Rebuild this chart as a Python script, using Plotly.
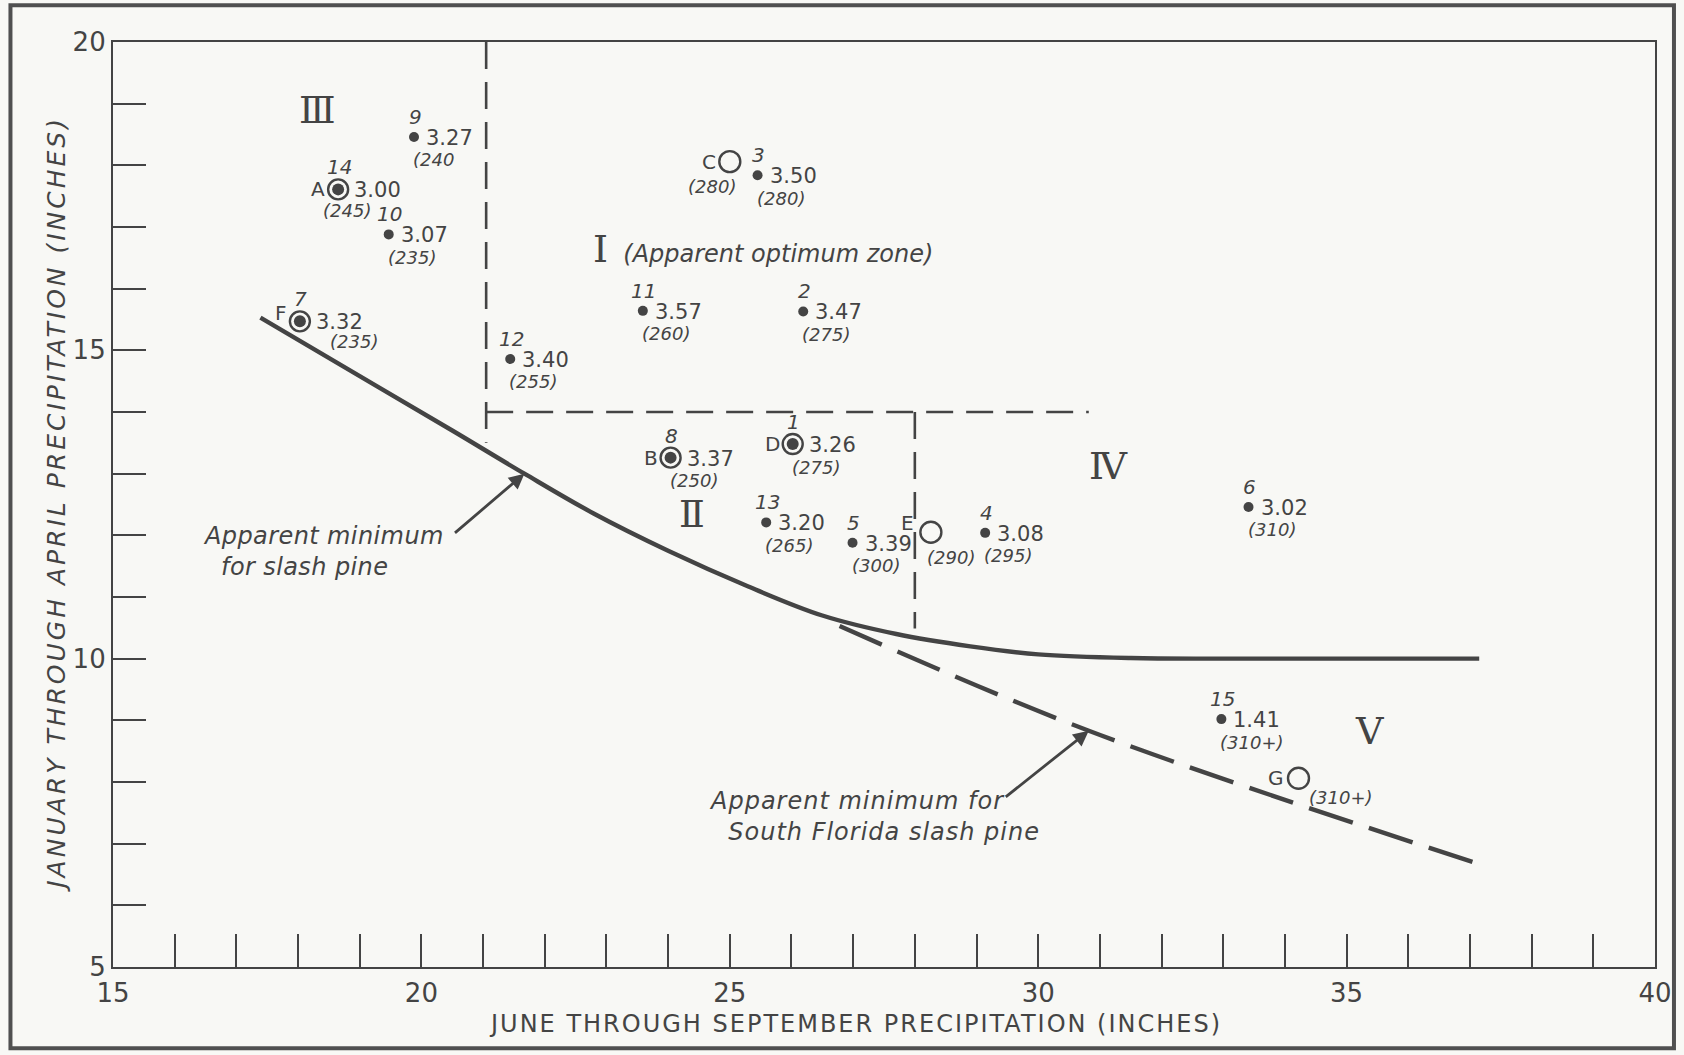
import plotly.graph_objects as go

INK = "#444444"
BG = "#f8f8f5"
SANS = "DejaVu Sans"
SERIF = "DejaVu Serif"

# Stations: June-September rain (x), January-April rain (y), growth value, days
station_no = ["1", "2", "3", "4", "5", "6", "7", "8", "9", "10", "11", "12", "13", "14", "15"]
station_x = [26.02, 26.19, 25.45, 29.14, 26.99, 33.41, 18.03, 24.04, 19.88, 19.47, 23.59, 21.44, 25.59, 18.65, 32.97]
station_y = [13.48, 15.63, 17.84, 12.04, 11.88, 12.46, 15.47, 13.26, 18.46, 16.88, 15.64, 14.86, 12.21, 17.61, 9.02]
station_value = ["3.26", "3.47", "3.50", "3.08", "3.39", "3.02", "3.32", "3.37", "3.27", "3.07", "3.57", "3.40", "3.20", "3.00", "1.41"]
station_days = ["(275)", "(275)", "(280)", "(295)", "(300)", "(310)", "(235)", "(250)", "(240", "(235)", "(260)", "(255)", "(265)", "(245)", "(310+)"]
station_letter = {"1": "D", "7": "F", "8": "B", "14": "A"}

# Lettered sites without station data (open circles)
site_letter = ["C", "E", "G"]
site_x = [25.00, 28.26, 34.22]
site_y = [18.06, 12.05, 8.06]
site_days = ["(280)", "(290)", "(310+)"]

# Apparent minimum for slash pine (solid) and for South Florida slash pine (dashed)
slash_min_x = [17.39, 19.00, 20.50, 21.67, 22.80, 24.00, 25.30, 26.50, 27.70, 28.90, 30.00, 31.50, 33.00, 37.15]
slash_min_y = [15.53, 14.58, 13.70, 13.00, 12.35, 11.75, 11.17, 10.70, 10.40, 10.20, 10.07, 10.01, 10.00, 10.00]
sfl_min_x = [26.78, 30.82, 37.30]
sfl_min_y = [10.53, 8.83, 6.62]

# Zone boundaries
zone_v1_x, zone_v1_y = [21.05, 21.05], [20.0, 13.5]
zone_h_x, zone_h_y = [21.05, 30.82], [14.0, 14.0]
zone_v2_x, zone_v2_y = [28.0, 28.0], [14.0, 10.49]

# Zone numerals
zone_name = ["Ⅲ", "Ⅱ", "Ⅳ", "Ⅴ"]
zone_x = [18.32, 24.39, 31.14, 35.37]
zone_y = [18.90, 12.34, 13.13, 8.83]

fig = go.Figure()

# boundaries
for xs, ys in [(zone_v1_x, zone_v1_y), (zone_h_x, zone_h_y), (zone_v2_x, zone_v2_y)]:
    fig.add_trace(go.Scatter(x=xs, y=ys, mode="lines",
                             line=dict(color=INK, width=2.6, dash="27px,13px"),
                             hoverinfo="skip"))

fig.add_trace(go.Scatter(x=slash_min_x, y=slash_min_y, mode="lines",
                         line=dict(color=INK, width=4.4, shape="spline", smoothing=1.0),
                         hoverinfo="skip"))
fig.add_trace(go.Scatter(x=sfl_min_x, y=sfl_min_y, mode="lines",
                         line=dict(color=INK, width=4.4, dash="46px,17px", shape="spline"),
                         hoverinfo="skip"))

# station markers
ring_idx = [i for i, s in enumerate(station_no) if s in station_letter]
fig.add_trace(go.Scatter(x=[station_x[i] for i in ring_idx], y=[station_y[i] for i in ring_idx],
                         mode="markers",
                         marker=dict(symbol="circle-open", size=20, color=INK, opacity=1, line=dict(width=2.4)),
                         hoverinfo="skip"))
fig.add_trace(go.Scatter(x=station_x, y=station_y, mode="markers",
                         marker=dict(symbol="circle", size=[12 if s in station_letter else 10 for s in station_no],
                                     color=INK, opacity=1, line=dict(width=0)),
                         hoverinfo="skip"))
fig.add_trace(go.Scatter(x=site_x, y=site_y, mode="markers",
                         marker=dict(symbol="circle-open", size=21, color=INK, opacity=1, line=dict(width=2.4)),
                         hoverinfo="skip"))

ann = []


def label(x, y, text, size, xs=0, ys=0, anchor="center", italic=False, family=SANS):
    ann.append(dict(x=x, y=y, xref="x", yref="y", text=f"<i>{text}</i>" if italic else text,
                    showarrow=False, xanchor=anchor, yanchor="middle", xshift=xs, yshift=ys,
                    font=dict(family=family, size=size, color=INK)))


days_shift = {"14": (-17, -21), "7": (28, -20)}
for s, x, y, v, d in zip(station_no, station_x, station_y, station_value, station_days):
    ring = s in station_letter
    label(x, y, s, 20, xs=1, ys=22 if ring else 20, italic=True)
    label(x, y, v, 21, xs=14 if ring else 10, ys=-1, anchor="left")
    dx, dy = days_shift.get(s, (-3, -23))
    label(x, y, d, 18, xs=dx, ys=dy, anchor="left", italic=True)
    if ring:
        label(x, y, station_letter[s], 20, xs=-11, ys=8 if s == "7" else 0, anchor="right")

site_shift = {"C": (-44, -25), "E": (-6, -25), "G": (9, -19)}
for l, x, y, d in zip(site_letter, site_x, site_y, site_days):
    label(x, y, l, 20, xs=-15 if l == "E" else -12, ys=9 if l == "E" else 0, anchor="right")
    dx, dy = site_shift[l]
    label(x, y, d, 18, xs=dx, ys=dy, anchor="left", italic=True)

for n, x, y in zip(zone_name, zone_x, zone_y):
    label(x, y, n, 38, family=SERIF)

ann.append(dict(x=22.75, y=16.64, xref="x", yref="y", xanchor="left", yanchor="middle", showarrow=False,
                text=f"<span style='font-family:{SERIF};font-size:38px'>Ⅰ</span>  <i>(Apparent optimum zone)</i>",
                font=dict(family=SANS, size=24, color=INK)))

# annotated minima with arrows
ann.append(dict(x=21.67, y=13.0, ax=20.52, ay=12.02, xref="x", yref="y", axref="x", ayref="y",
                text="", showarrow=True, arrowhead=2, arrowsize=1.1, arrowwidth=2.8, arrowcolor=INK))
ann.append(dict(x=16.42, y=11.73, xref="x", yref="y", showarrow=False, align="left",
                xanchor="left", yanchor="middle",
                text="<span style='letter-spacing:0.4px'><i>Apparent minimum<br>  for slash pine</i></span>",
                font=dict(family=SANS, size=24, color=INK)))
ann.append(dict(x=30.82, y=8.83, ax=29.45, ay=7.74, xref="x", yref="y", axref="x", ayref="y",
                text="", showarrow=True, arrowhead=2, arrowsize=1.1, arrowwidth=2.8, arrowcolor=INK))
ann.append(dict(x=24.63, y=7.44, xref="x", yref="y", showarrow=False, align="left",
                xanchor="left", yanchor="middle",
                text="<span style='letter-spacing:1px'><i>Apparent minimum for<br>  South Florida slash pine</i></span>",
                font=dict(family=SANS, size=24, color=INK)))

# axis titles
ann.append(dict(x=0.4816, y=-0.0614, xref="paper", yref="paper", showarrow=False,
                xanchor="center", yanchor="middle",
                text="<span style='letter-spacing:2px'>JUNE THROUGH SEPTEMBER PRECIPITATION (INCHES)</span>",
                font=dict(family=SANS, size=24, color=INK)))
ann.append(dict(x=-0.0368, y=0.50, xref="paper", yref="paper", showarrow=False, textangle=-90,
                xanchor="center", yanchor="middle",
                text="<span style='letter-spacing:3px'><i>JANUARY THROUGH APRIL PRECIPITATION (INCHES)</i></span>",
                font=dict(family=SANS, size=25, color=INK)))

x_ticks = list(range(15, 41))
y_ticks = list(range(5, 21))

fig.update_layout(
    width=1684, height=1055,
    margin=dict(l=113, r=22, t=42, b=88),
    paper_bgcolor=BG, plot_bgcolor=BG,
    showlegend=False,
    annotations=ann,
    shapes=[dict(type="rect", xref="paper", yref="paper",
                 x0=-0.0665, x1=1.0123, y0=-0.0879, y1=1.0397,
                 line=dict(color="#505050", width=4))],
    xaxis=dict(range=[15, 40], showgrid=False, zeroline=False, showline=True, linecolor=INK,
               linewidth=2.2, mirror=True, ticks="inside", ticklen=33, tickwidth=2, tickcolor=INK,
               tickvals=x_ticks, ticktext=[str(v) if v % 5 == 0 else "" for v in x_ticks],
               ticklabelstandoff=2,
               tickfont=dict(family=SANS, size=26, color=INK)),
    yaxis=dict(range=[5, 20], showgrid=False, zeroline=False, showline=True, linecolor=INK,
               linewidth=2.2, mirror=True, ticks="inside", ticklen=33, tickwidth=2, tickcolor=INK,
               tickvals=y_ticks, ticktext=[str(v) if v % 5 == 0 else "" for v in y_ticks],
               tickfont=dict(family=SANS, size=26, color=INK)),
)

fig.write_html("out.html", config={"displayModeBar": False})
